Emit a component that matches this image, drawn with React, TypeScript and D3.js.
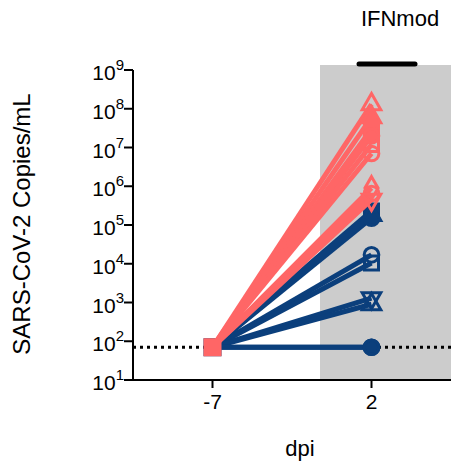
import React from "react";
import * as d3 from "d3";

// Time points (days post infection)
const days = ["-7", "2"];

// Copies/mL at -7 dpi (all at the limit of detection) and at 2 dpi
const baseline = 70;
const lod = 70;

const redShapes = ["triangle", "triangleFill", "squareFill", "circleFill", "square", "circle", "diamond", "circle", "triangleDown"];
const redDay2 = [1.3e8, 6e7, 3e7, 2e7, 1.2e7, 7e6, 9e5, 6.5e5, 4.5e5];

const blueShapes = ["squareFill", "circleFill", "triangleFill", "circle", "square", "triangleDown", "triangle", "circleFill", "circle"];
const blueDay2 = [2.3e5, 1.5e5, 1.8e5, 1.7e4, 1.05e4, 1.3e3, 9e2, 70, 70];

const yTickExps = [1, 2, 3, 4, 5, 6, 7, 8, 9];

const RED = "#ff6666";
const BLUE = "#0b3f7c";

const symbolPath = (name: string) => {
  const base = name.replace("Fill", "");
  let type = d3.symbolCircle;
  let size = 170;
  if (base === "square") { type = d3.symbolSquare; size = 196; }
  if (base === "triangle" || base === "triangleDown") { type = d3.symbolTriangle; size = 150; }
  if (base === "diamond") { type = d3.symbolDiamond; size = 150; }
  return d3.symbol().type(type).size(size)() as string;
};

function Marker({ x, y, shape, color }: { x: number; y: number; shape: string; color: string }) {
  const filled = shape.endsWith("Fill");
  const rot = shape.startsWith("triangleDown") ? 180 : 0;
  return (
    <path
      d={symbolPath(shape)}
      transform={`translate(${x},${y}) rotate(${rot})`}
      fill={filled ? color : "none"}
      stroke={color}
      strokeWidth={3}
    />
  );
}

export default function App() {
  const W = 451, H = 468;
  const left = 133, right = 451, top = 70, bottom = 380;

  const x = d3.scalePoint<string>().domain(days).range([left, right]).padding(0.5);
  const y = d3.scaleLog().domain([10, 1e9]).range([bottom, top]);

  const x0 = x(days[0]) as number;
  const x1 = x(days[1]) as number;

  const font = "'Liberation Sans', Arial, Helvetica, sans-serif";

  const series = (vals: number[], shapes: string[], color: string, key: string) => (
    <g key={key}>
      {vals.map((v, i) => (
        <line key={`l${i}`} x1={x0} y1={y(baseline)} x2={x1} y2={y(v)} stroke={color} strokeWidth={5} />
      ))}
      {vals.map((v, i) => (
        <Marker key={`m${i}`} x={x1} y={y(v)} shape={shapes[i]} color={color} />
      ))}
      <rect x={x0 - 9} y={y(baseline) - 9} width={18} height={18} fill={color} />
    </g>
  );

  return (
    <svg width={W} height={H} style={{ position: "absolute", left: 0, top: 0 }} fontFamily={font}>
      {/* treatment window */}
      <rect x={320} y={65} width={right - 320} height={bottom - 65} fill="#cccccc" />
      <line x1={359} x2={415} y1={64} y2={64} stroke="#000" strokeWidth={5} strokeLinecap="round" />
      <text x={400} y={26} textAnchor="middle" fontSize={22} fill="#000">IFNmod</text>

      {/* limit of detection */}
      <line x1={left} x2={right} y1={y(lod)} y2={y(lod)} stroke="#000" strokeWidth={3} strokeDasharray="3,4" />

      {series(blueDay2, blueShapes, BLUE, "blue")}
      {series(redDay2, redShapes, RED, "red")}

      {/* y axis */}
      <line x1={left} x2={left} y1={top} y2={bottom} stroke="#000" strokeWidth={2} />
      {yTickExps.map((e) => {
        const ty = y(Math.pow(10, e));
        return (
          <g key={e}>
            <line x1={left - 9} x2={left} y1={ty} y2={ty} stroke="#000" strokeWidth={2} />
            <text x={124} y={ty + 10} textAnchor="end" fontSize={21} fill="#000">
              10<tspan dy={-10} fontSize={15}>{e}</tspan>
            </text>
          </g>
        );
      })}

      {/* x axis */}
      <line x1={left} x2={right} y1={bottom} y2={bottom} stroke="#000" strokeWidth={2} />
      {days.map((d) => (
        <g key={d}>
          <line x1={x(d) as number} x2={x(d) as number} y1={bottom} y2={bottom + 8} stroke="#000" strokeWidth={2} />
          <text x={x(d) as number} y={409} textAnchor="middle" fontSize={21} fill="#000">{d}</text>
        </g>
      ))}

      <text x={300} y={456} textAnchor="middle" fontSize={22} fill="#000">dpi</text>
      <text transform="translate(30,224) rotate(-90)" textAnchor="middle" fontSize={24} fill="#000">
        SARS-CoV-2 Copies/mL
      </text>
    </svg>
  );
}
